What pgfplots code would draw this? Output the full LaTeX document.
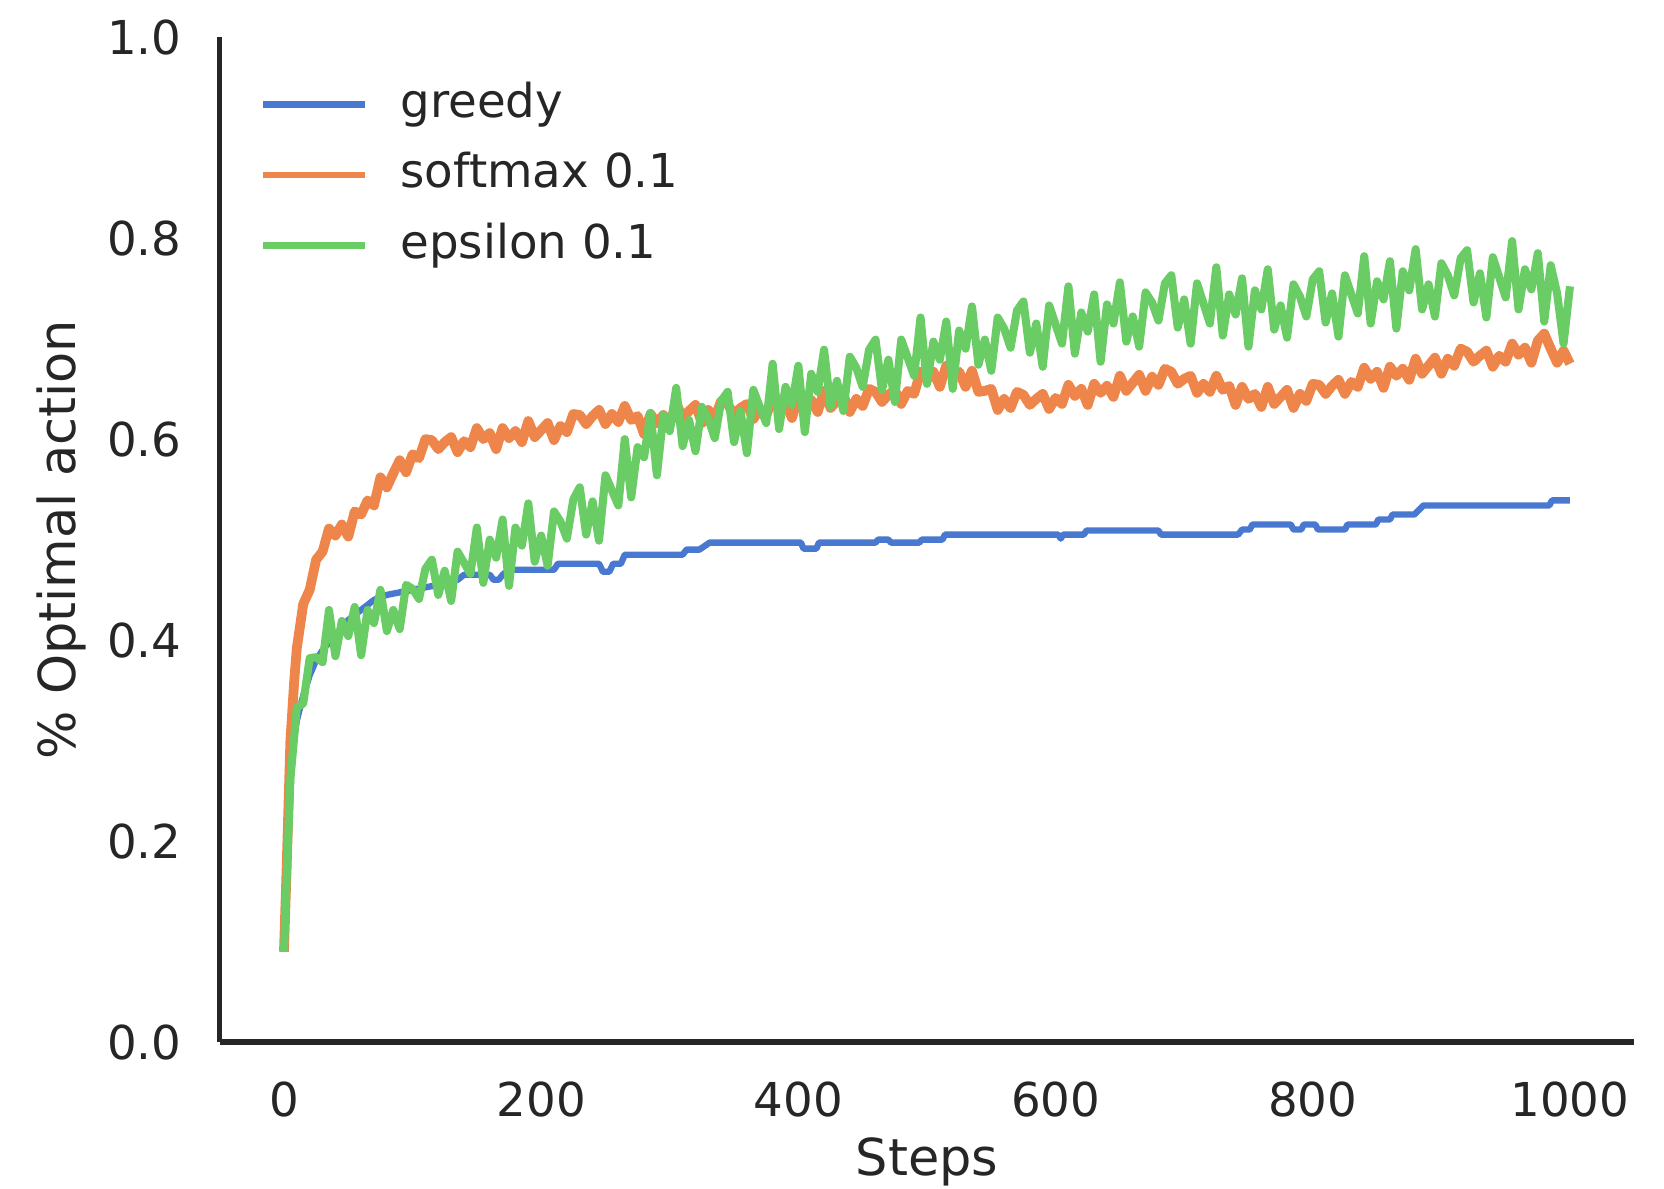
\documentclass[border=0pt]{standalone}
\usepackage{pgfplots}
\pgfplotsset{compat=1.18}
\usepackage{fontspec}
\setmainfont{DejaVu Sans}
\definecolor{sbblue}{HTML}{4878D0}
\definecolor{sborange}{HTML}{EE854A}
\definecolor{sbgreen}{HTML}{6ACC64}
\definecolor{sbtext}{HTML}{262626}
\begin{document}
\begin{tikzpicture}
\path[use as bounding box] (-51.75pt,-34.5pt) rectangle (340.25pt,245.5pt);
\begin{axis}[
  scale only axis, width=333.25pt, height=236.75pt,
  xmin=-50, xmax=1050, ymin=0, ymax=1,
  axis x line*=bottom, axis y line*=left,
  axis line style={sbtext, line width=1.25pt, -},
  xtick={0,200,400,600,800,1000}, ytick={0,0.2,0.4,0.6,0.8,1},
  major tick length=0pt,
  /pgf/number format/assume math mode=true,
  /pgf/number format/1000 sep={},
  ticklabel style={font=\fontsize{11}{13}\selectfont, text=sbtext},
  xticklabel style={yshift=-5.8pt},
  yticklabel style={xshift=-5.5pt, /pgf/number format/.cd, fixed, fixed zerofill, precision=1},
  xlabel={Steps}, ylabel={\% Optimal action},
  xlabel style={at={(axis description cs:0.5,-0.119)}, anchor=center, font=\fontsize{12}{14}\selectfont, text=sbtext},
  ylabel style={at={(axis description cs:-0.112,0.5)}, anchor=center, font=\fontsize{12}{14}\selectfont, text=sbtext},
  legend cell align=left,
  legend style={draw=none, fill=none, at={(axis description cs:0.028,0.957)}, anchor=north west,
    font=\fontsize{11}{13}\selectfont, text=sbtext, inner sep=0pt, row sep=5.6pt, column sep=0pt,
    nodes={inner xsep=7.6pt, inner ysep=0pt, text height=8.5pt, text depth=2.5pt}},
  legend image code/.code={\draw[#1, line width=1.5pt] (0pt,0pt) -- (24pt,0pt);},
  every axis plot/.append style={line join=round},
]
\addplot[sbblue, line width=1.5pt] coordinates {(0,0.09)(2,0.17)(4,0.24)(6,0.28)(8,0.305)(10,0.32)(15,0.345)(20,0.365)(25,0.38)(30,0.39)(40,0.405)(50,0.42)(60,0.43)(70,0.44)(80,0.445)(100,0.45)(120,0.455)(135,0.46)(140,0.465)(160,0.465)(163,0.46)(167,0.46)(170,0.465)(175,0.47)(210,0.47)(213,0.476)(245,0.476)(248,0.468)(253,0.468)(256,0.476)(262,0.476)(265,0.485)(310,0.485)(313,0.49)(323,0.49)(331,0.497)(402,0.497)(404,0.491)(414,0.491)(416,0.497)(460,0.497)(462,0.50)(470,0.50)(472,0.497)(494,0.497)(496,0.50)(512,0.50)(514,0.505)(602,0.505)(604,0.501)(606,0.505)(622,0.505)(624,0.509)(680,0.509)(682,0.505)(742,0.505)(745,0.51)(751,0.51)(753,0.515)(783,0.515)(785,0.51)(791,0.51)(793,0.515)(802,0.515)(804,0.51)(825,0.51)(827,0.515)(849,0.515)(851,0.52)(860,0.52)(862,0.525)(879,0.525)(886,0.534)(984,0.534)(986,0.539)(1000,0.539)};
\addlegendentry{greedy}
\addplot[sborange, line width=2.3pt] coordinates {(0,0.09)(2,0.17)(5,0.30)(8,0.36)(10,0.392)(15,0.436)(20,0.450)(25,0.480)(30,0.488)(35,0.511)(40,0.504)(45,0.515)(50,0.503)(55,0.528)(60,0.525)(65,0.539)(70,0.534)(75,0.562)(80,0.552)(85,0.566)(90,0.579)(95,0.567)(100,0.585)(105,0.581)(110,0.600)(115,0.599)(120,0.590)(125,0.597)(130,0.602)(135,0.587)(140,0.598)(145,0.592)(150,0.611)(155,0.600)(160,0.606)(165,0.590)(170,0.611)(175,0.601)(180,0.608)(185,0.597)(190,0.618)(195,0.602)(200,0.609)(205,0.616)(210,0.599)(215,0.613)(220,0.607)(225,0.625)(230,0.624)(235,0.615)(240,0.623)(245,0.629)(250,0.615)(255,0.625)(260,0.617)(265,0.633)(270,0.619)(275,0.623)(280,0.605)(285,0.625)(290,0.616)(295,0.624)(300,0.614)(305,0.636)(310,0.621)(315,0.628)(320,0.634)(325,0.616)(330,0.629)(335,0.621)(340,0.638)(345,0.635)(350,0.624)(355,0.631)(360,0.635)(365,0.620)(370,0.630)(375,0.623)(380,0.642)(385,0.631)(390,0.637)(395,0.621)(400,0.642)(405,0.632)(410,0.639)(415,0.627)(420,0.648)(425,0.631)(430,0.638)(435,0.644)(440,0.627)(445,0.640)(450,0.633)(455,0.650)(460,0.647)(465,0.637)(470,0.644)(475,0.649)(480,0.635)(485,0.648)(490,0.645)(495,0.667)(500,0.659)(505,0.667)(510,0.652)(515,0.673)(520,0.663)(525,0.667)(530,0.652)(535,0.668)(540,0.647)(545,0.648)(550,0.650)(555,0.629)(560,0.640)(565,0.631)(570,0.647)(575,0.644)(580,0.634)(585,0.640)(590,0.645)(595,0.630)(600,0.641)(605,0.635)(610,0.654)(615,0.643)(620,0.650)(625,0.634)(630,0.655)(635,0.646)(640,0.653)(645,0.642)(650,0.663)(655,0.648)(660,0.656)(665,0.664)(670,0.648)(675,0.662)(680,0.654)(685,0.670)(690,0.667)(695,0.655)(700,0.660)(705,0.663)(710,0.646)(715,0.655)(720,0.647)(725,0.663)(730,0.649)(735,0.653)(740,0.634)(745,0.652)(750,0.640)(755,0.645)(760,0.632)(765,0.652)(770,0.635)(775,0.642)(780,0.649)(785,0.631)(790,0.645)(795,0.638)(800,0.655)(805,0.654)(810,0.645)(815,0.653)(820,0.659)(825,0.645)(830,0.657)(835,0.652)(840,0.671)(845,0.660)(850,0.667)(855,0.651)(860,0.672)(865,0.663)(870,0.670)(875,0.659)(880,0.680)(885,0.665)(890,0.673)(895,0.681)(900,0.665)(905,0.680)(910,0.673)(915,0.690)(920,0.687)(925,0.677)(930,0.683)(935,0.688)(940,0.672)(945,0.683)(950,0.677)(955,0.695)(960,0.684)(965,0.691)(970,0.676)(975,0.698)(980,0.705)(985,0.690)(990,0.676)(995,0.688)(1000,0.675)};
\addlegendentry{softmax 0.1}
\addplot[sbgreen, line width=1.9pt] coordinates {(0,0.09)(5,0.262)(10,0.333)(15,0.337)(20,0.382)(25,0.383)(30,0.378)(35,0.430)(40,0.384)(45,0.419)(50,0.404)(55,0.433)(60,0.385)(65,0.430)(70,0.417)(75,0.450)(80,0.409)(85,0.430)(90,0.411)(95,0.455)(100,0.451)(105,0.441)(110,0.471)(115,0.480)(120,0.445)(125,0.469)(130,0.439)(135,0.488)(140,0.477)(145,0.466)(150,0.512)(155,0.457)(160,0.500)(165,0.482)(170,0.520)(175,0.454)(180,0.512)(185,0.494)(190,0.536)(195,0.478)(200,0.504)(205,0.474)(210,0.528)(215,0.518)(220,0.501)(225,0.540)(230,0.552)(235,0.505)(240,0.538)(245,0.499)(250,0.564)(255,0.549)(260,0.534)(265,0.600)(270,0.542)(275,0.592)(280,0.582)(285,0.626)(290,0.564)(295,0.624)(300,0.608)(305,0.651)(310,0.593)(315,0.619)(320,0.588)(325,0.632)(330,0.620)(335,0.601)(340,0.638)(345,0.647)(350,0.597)(355,0.628)(360,0.586)(365,0.649)(370,0.632)(375,0.616)(380,0.675)(385,0.610)(390,0.652)(395,0.634)(400,0.673)(405,0.607)(410,0.665)(415,0.647)(420,0.689)(425,0.632)(430,0.658)(435,0.628)(440,0.682)(445,0.671)(450,0.652)(455,0.689)(460,0.699)(465,0.649)(470,0.679)(475,0.637)(480,0.699)(485,0.681)(490,0.663)(495,0.721)(500,0.655)(505,0.697)(510,0.679)(515,0.717)(520,0.650)(525,0.708)(530,0.690)(535,0.732)(540,0.674)(545,0.699)(550,0.668)(555,0.721)(560,0.710)(565,0.691)(570,0.728)(575,0.737)(580,0.686)(585,0.715)(590,0.672)(595,0.733)(600,0.714)(605,0.695)(610,0.752)(615,0.685)(620,0.726)(625,0.707)(630,0.744)(635,0.677)(640,0.734)(645,0.715)(650,0.756)(655,0.697)(660,0.722)(665,0.692)(670,0.746)(675,0.736)(680,0.718)(685,0.755)(690,0.763)(695,0.711)(700,0.739)(705,0.695)(710,0.755)(715,0.735)(720,0.715)(725,0.771)(730,0.703)(735,0.744)(740,0.724)(745,0.760)(750,0.692)(755,0.748)(760,0.729)(765,0.769)(770,0.709)(775,0.733)(780,0.701)(785,0.754)(790,0.742)(795,0.722)(800,0.759)(805,0.767)(810,0.716)(815,0.745)(820,0.702)(825,0.763)(830,0.744)(835,0.725)(840,0.782)(845,0.715)(850,0.757)(855,0.739)(860,0.777)(865,0.710)(870,0.767)(875,0.748)(880,0.789)(885,0.729)(890,0.754)(895,0.722)(900,0.775)(905,0.763)(910,0.743)(915,0.780)(920,0.788)(925,0.736)(930,0.765)(935,0.721)(940,0.781)(945,0.761)(950,0.741)(955,0.797)(960,0.729)(965,0.769)(970,0.749)(975,0.785)(980,0.717)(985,0.773)(990,0.745)(995,0.695)(1000,0.752)};
\addlegendentry{epsilon 0.1}
\end{axis}
\end{tikzpicture}
\end{document}
